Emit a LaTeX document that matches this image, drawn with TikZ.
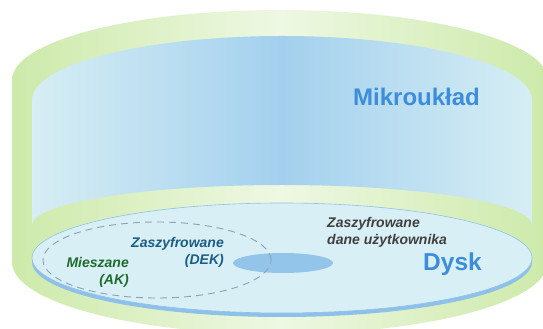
\documentclass[tikz,border=0pt]{standalone}
\usepackage{fontspec}
\setmainfont{Liberation Sans}
\definecolor{greenedge}{HTML}{CDEAAA}
\definecolor{greenmid}{HTML}{EEF8E3}
\definecolor{blueside}{HTML}{D6EEF4}
\definecolor{bluemid}{HTML}{A3D0EE}
\definecolor{diskfill}{HTML}{D8EFF6}
\definecolor{diskline}{HTML}{8EC2EA}
\definecolor{rimblue}{HTML}{8FC0E8}
\definecolor{spotblue}{HTML}{93C4E9}
\definecolor{dashcol}{HTML}{8AA2B6}
\definecolor{titleblue}{HTML}{3D8DDB}
\definecolor{dekcol}{HTML}{1B5E82}
\definecolor{akcol}{HTML}{1F6B2E}
\definecolor{datacol}{HTML}{404040}
\tikzset{
  bigtitle/.style={inner sep=0pt, text=titleblue, font=\fontsize{24}{28}\selectfont\bfseries},
  smalllabel/.style={inner sep=0pt, font=\fontsize{14}{17}\selectfont\bfseries\itshape},
}
\begin{document}
\begin{tikzpicture}[x=1pt,y=1pt]
\useasboundingbox (0,0) rectangle (543,329);
\clip (0,0) rectangle (543,329);
% outer green body
\path[left color=greenedge, right color=greenedge, middle color=greenmid]
  (12,249) arc[start angle=180, end angle=0, x radius=268, y radius=70]
  -- (548,67) arc[start angle=0, end angle=-180, x radius=268, y radius=72]
  -- cycle;
% inner blue cylinder (Mikrouklad)
\path[left color=blueside, right color=blueside, middle color=bluemid]
  (32,229) arc[start angle=180, end angle=0, x radius=250, y radius=64]
  -- (532,104) arc[start angle=0, end angle=180, x radius=250, y radius=40]
  -- cycle;
% disk rim and disk
\fill[rimblue] (282,67) ellipse[x radius=250, y radius=55];
\draw[diskline, line width=0.6pt, fill=diskfill] (282,71) ellipse[x radius=250, y radius=55];
% data spot
\fill[spotblue] (283,66) ellipse[x radius=50, y radius=10];
% dashed key region
\draw[dashcol, line width=0.9pt, dash pattern=on 7pt off 5pt] (157,69) ellipse[x radius=114, y radius=38];
% texts
\node[bigtitle, anchor=base west] (mikro) at (353,223) {Mikroukład};
\node[bigtitle, anchor=base west, font=\fontsize{24.5}{28}\selectfont\bfseries] (dysk) at (423,58) {Dysk};
\node[smalllabel, text=dekcol, anchor=base east] (dek1) at (224,81) {Zaszyfrowane};
\node[smalllabel, text=dekcol, anchor=base east] (dek2) at (224,64) {(DEK)};
\node[smalllabel, text=akcol, anchor=base east] (ak1) at (129,61) {Mieszane};
\node[smalllabel, text=akcol, anchor=base east] (ak2) at (129,44) {(AK)};
\node[smalllabel, text=datacol, anchor=base west] (dane1) at (327,101) {Zaszyfrowane};
\node[smalllabel, text=datacol, anchor=base west] (dane2) at (327,84) {dane użytkownika};
\end{tikzpicture}
\end{document}
